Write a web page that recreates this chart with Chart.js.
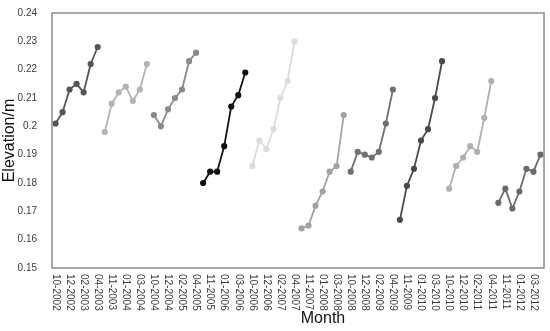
<!DOCTYPE html>
<html>
<head>
<meta charset="utf-8">
<script src="https://cdn.jsdelivr.net/npm/chart.js@4/dist/chart.umd.min.js"></script>
<style>
  html, body { margin: 0; padding: 0; background: #fff; }
  #wrap { width: 550px; height: 331px; }
</style>
</head>
<body>
<div id="wrap"><canvas id="chart"></canvas></div>
<script>
const months = [
  "10-2002", "11-2002", "12-2002", "01-2003", "02-2003", "03-2003", "04-2003",
  "10-2003", "11-2003", "12-2003", "01-2004", "02-2004", "03-2004", "04-2004",
  "10-2004", "11-2004", "12-2004", "01-2005", "02-2005", "03-2005", "04-2005",
  "10-2005", "11-2005", "12-2005", "01-2006", "02-2006", "03-2006", "04-2006",
  "10-2006", "11-2006", "12-2006", "01-2007", "02-2007", "03-2007", "04-2007",
  "10-2007", "11-2007", "12-2007", "01-2008", "02-2008", "03-2008", "04-2008",
  "10-2008", "11-2008", "12-2008", "01-2009", "02-2009", "03-2009", "04-2009",
  "10-2009", "11-2009", "12-2009", "01-2010", "02-2010", "03-2010", "04-2010",
  "10-2010", "11-2010", "12-2010", "01-2011", "02-2011", "03-2011", "04-2011",
  "10-2011", "11-2011", "12-2011", "01-2012", "02-2012", "03-2012", "04-2012",
];

// one series per winter season (Oct..Apr)
const s2002 = [0.201, 0.205, 0.213, 0.215, 0.212, 0.222, 0.228];
const s2003 = [0.198, 0.208, 0.212, 0.214, 0.209, 0.213, 0.222];
const s2004 = [0.204, 0.200, 0.206, 0.210, 0.213, 0.223, 0.226];
const s2005 = [0.180, 0.184, 0.184, 0.193, 0.207, 0.211, 0.219];
const s2006 = [0.186, 0.195, 0.192, 0.199, 0.210, 0.216, 0.230];
const s2007 = [0.164, 0.165, 0.172, 0.177, 0.184, 0.186, 0.204];
const s2008 = [0.184, 0.191, 0.190, 0.189, 0.191, 0.201, 0.213];
const s2009 = [0.167, 0.179, 0.185, 0.195, 0.199, 0.210, 0.223];
const s2010 = [0.178, 0.186, 0.189, 0.193, 0.191, 0.203, 0.216];
const s2011 = [0.173, 0.178, 0.171, 0.177, 0.185, 0.184, 0.190];

const seasons = [s2002, s2003, s2004, s2005, s2006, s2007, s2008, s2009, s2010, s2011];
const colours = ["#555555", "#b4b4b4", "#8a8a8a", "#111111", "#dcdcdc",
                 "#a2a2a2", "#707070", "#4a4a4a", "#b0b0b0", "#6a6a6a"];

const yTicks = { min: 0.15, max: 0.24, step: 0.01 };
const font = '"Liberation Sans", Arial, sans-serif';

const datasets = seasons.map((vals, k) => {
  const data = months.map(() => null);
  vals.forEach((v, j) => { data[k * 7 + j] = v; });
  return {
    data,
    borderColor: colours[k],
    backgroundColor: colours[k],
    borderWidth: 1.8,
    pointRadius: 2.2,
    pointHoverRadius: 2.2,
    spanGaps: false,
  };
});

const frame = {
  id: "frame",
  afterDraw(chart) {
    const { ctx, chartArea: a } = chart;
    const x = chart.scales.x;
    ctx.save();
    ctx.strokeStyle = "#8c8c8c";
    ctx.lineWidth = 1.5;
    ctx.strokeRect(a.left, a.top, a.right - a.left, a.bottom - a.top);

    ctx.fillStyle = "#3a3a3a";
    ctx.font = "10px " + font;
    ctx.textAlign = "left";
    ctx.textBaseline = "middle";
    months.forEach((m, i) => {
      if (i % 2) return;
      ctx.save();
      ctx.translate(x.getPixelForValue(i), a.bottom + 6);
      ctx.rotate(Math.PI / 2);
      ctx.fillText(m, 0, 0);
      ctx.restore();
    });

    ctx.fillStyle = "#111";
    ctx.font = "16px " + font;
    ctx.textAlign = "center";
    ctx.fillText("Month", 323, 319);
    ctx.restore();
  },
};

new Chart(document.getElementById("chart"), {
  type: "line",
  data: { labels: months, datasets },
  options: {
    responsive: true,
    maintainAspectRatio: false,
    animation: false,
    layout: { padding: { top: 8, right: 6, left: 0, bottom: 0 } },
    plugins: { legend: { display: false }, tooltip: { enabled: false } },
    scales: {
      x: {
        offset: true,
        grid: { display: false },
        border: { display: false },
        ticks: { display: false },
        afterFit: (s) => { s.height = 63; },
      },
      y: {
        min: yTicks.min,
        max: yTicks.max,
        grid: { display: false },
        border: { display: false },
        ticks: {
          stepSize: yTicks.step,
          padding: 7,
          color: "#3a3a3a",
          font: { family: font, size: 10 },
          callback: (v) => String(+v.toFixed(2)),
        },
        title: {
          display: true,
          text: "Elevation/m",
          color: "#111",
          font: { family: font, size: 16 },
          padding: { top: 0, bottom: 0 },
        },
        afterFit: (s) => { s.width = 52; },
      },
    },
  },
  plugins: [frame],
});
</script>
</body>
</html>
